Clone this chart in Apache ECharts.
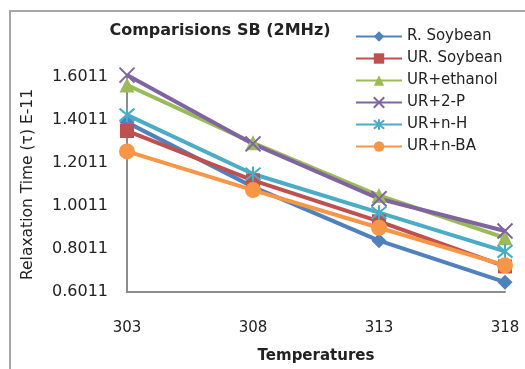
<!DOCTYPE html>
<html>
<head>
<meta charset="utf-8">
<script src="https://cdn.jsdelivr.net/npm/echarts@6/dist/echarts.min.js"></script>
<style>
html,body{margin:0;padding:0;background:#fff;}
#chart{width:525px;height:369px;}
</style>
</head>
<body>
<div id="chart"></div>
<script>
var categories = ['303', '308', '313', '318'];
var yTickLabels = [0.6011, 0.8011, 1.0011, 1.2011, 1.4011, 1.6011];
var seriesNames = ['R. Soybean', 'UR. Soybean', 'UR+ethanol', 'UR+2-P', 'UR+n-H', 'UR+n-BA'];
var rSoybean  = [1.39, 1.09, 0.84, 0.647];
var urSoybean = [1.35, 1.12, 0.93, 0.72];
var urEthanol = [1.564, 1.295, 1.05, 0.853];
var ur2P      = [1.610, 1.29, 1.035, 0.885];
var urNH      = [1.425, 1.15, 0.97, 0.79];
var urNBA     = [1.255, 1.075, 0.90, 0.725];

var colors = ['#4F81BD', '#C0504D', '#9BBB59', '#8064A2', '#4BACC6', '#F79646'];
var symbols = [
  'diamond',
  'rect',
  'triangle',
  'path://M0,0L10,10M10,0L0,10',
  'path://M0,0L10,10M10,0L0,10M5,-1L5,11',
  'circle'
];
var sizes = [15, 14, 15, 15, 15, 16];
var dataList = [rSoybean, urSoybean, urEthanol, ur2P, urNH, urNBA];

var font = 'DejaVu Sans';
var series = dataList.map(function (d, i) {
  var stroked = (i === 3 || i === 4);
  return {
    name: seriesNames[i],
    type: 'line',
    data: d,
    symbol: symbols[i],
    symbolSize: sizes[i],
    clip: false,
    lineStyle: { color: colors[i], width: 4 },
    itemStyle: stroked
      ? { color: 'rgba(0,0,0,0)', borderColor: colors[i], borderWidth: 2 }
      : { color: colors[i], borderWidth: 0 },
    emphasis: { disabled: true }
  };
});

var chart = echarts.init(document.getElementById('chart'), null, { renderer: 'canvas' });
chart.setOption({
  animation: false,
  backgroundColor: '#fff',
  color: colors,
  title: {
    text: 'Comparisions SB (2MHz)',
    left: 215,
    textAlign: 'center',
    top: 18,
    textStyle: { fontFamily: font, fontWeight: 'bold', fontSize: 16, color: '#222' }
  },
  legend: {
    orient: 'vertical',
    left: 350,
    top: 23,
    itemWidth: 46,
    itemHeight: 13,
    itemGap: 5,
    data: seriesNames,
    textStyle: { fontFamily: font, fontSize: 15, color: '#222', lineHeight: 17 }
  },
  grid: { left: 127, right: 20, top: 77, bottom: 73, containLabel: false },
  xAxis: {
    type: 'category',
    data: categories,
    boundaryGap: false,
    name: 'Temperatures',
    nameLocation: 'middle',
    nameGap: 57,
    nameTextStyle: { fontFamily: font, fontWeight: 'bold', fontSize: 15, color: '#222' },
    axisLine: { lineStyle: { color: '#8c8c8c', width: 2 } },
    axisTick: { show: false },
    axisLabel: { margin: 29, fontFamily: font, fontSize: 15, color: '#222' },
    splitLine: { show: false }
  },
  yAxis: {
    type: 'value',
    min: 0.6011,
    max: 1.6011,
    name: 'Relaxation Time (τ) E-11',
    nameLocation: 'middle',
    nameGap: 91,
    nameTextStyle: { fontFamily: font, fontSize: 15.5, color: '#222' },
    axisLine: { show: true, lineStyle: { color: '#8c8c8c', width: 2 } },
    axisTick: { show: false },
    splitLine: { show: false },
    axisLabel: {
      customValues: yTickLabels,
      margin: 19,
      fontFamily: font,
      fontSize: 16,
      color: '#222',
      formatter: function (v) { return v.toFixed(4); }
    }
  },
  graphic: [{
    type: 'rect',
    shape: { x: 10, y: 11, width: 700, height: 500 },
    style: { fill: 'none', stroke: '#a6a6a6', lineWidth: 2 },
    silent: true,
    z: -1
  }],
  series: series
});
</script>
</body>
</html>
